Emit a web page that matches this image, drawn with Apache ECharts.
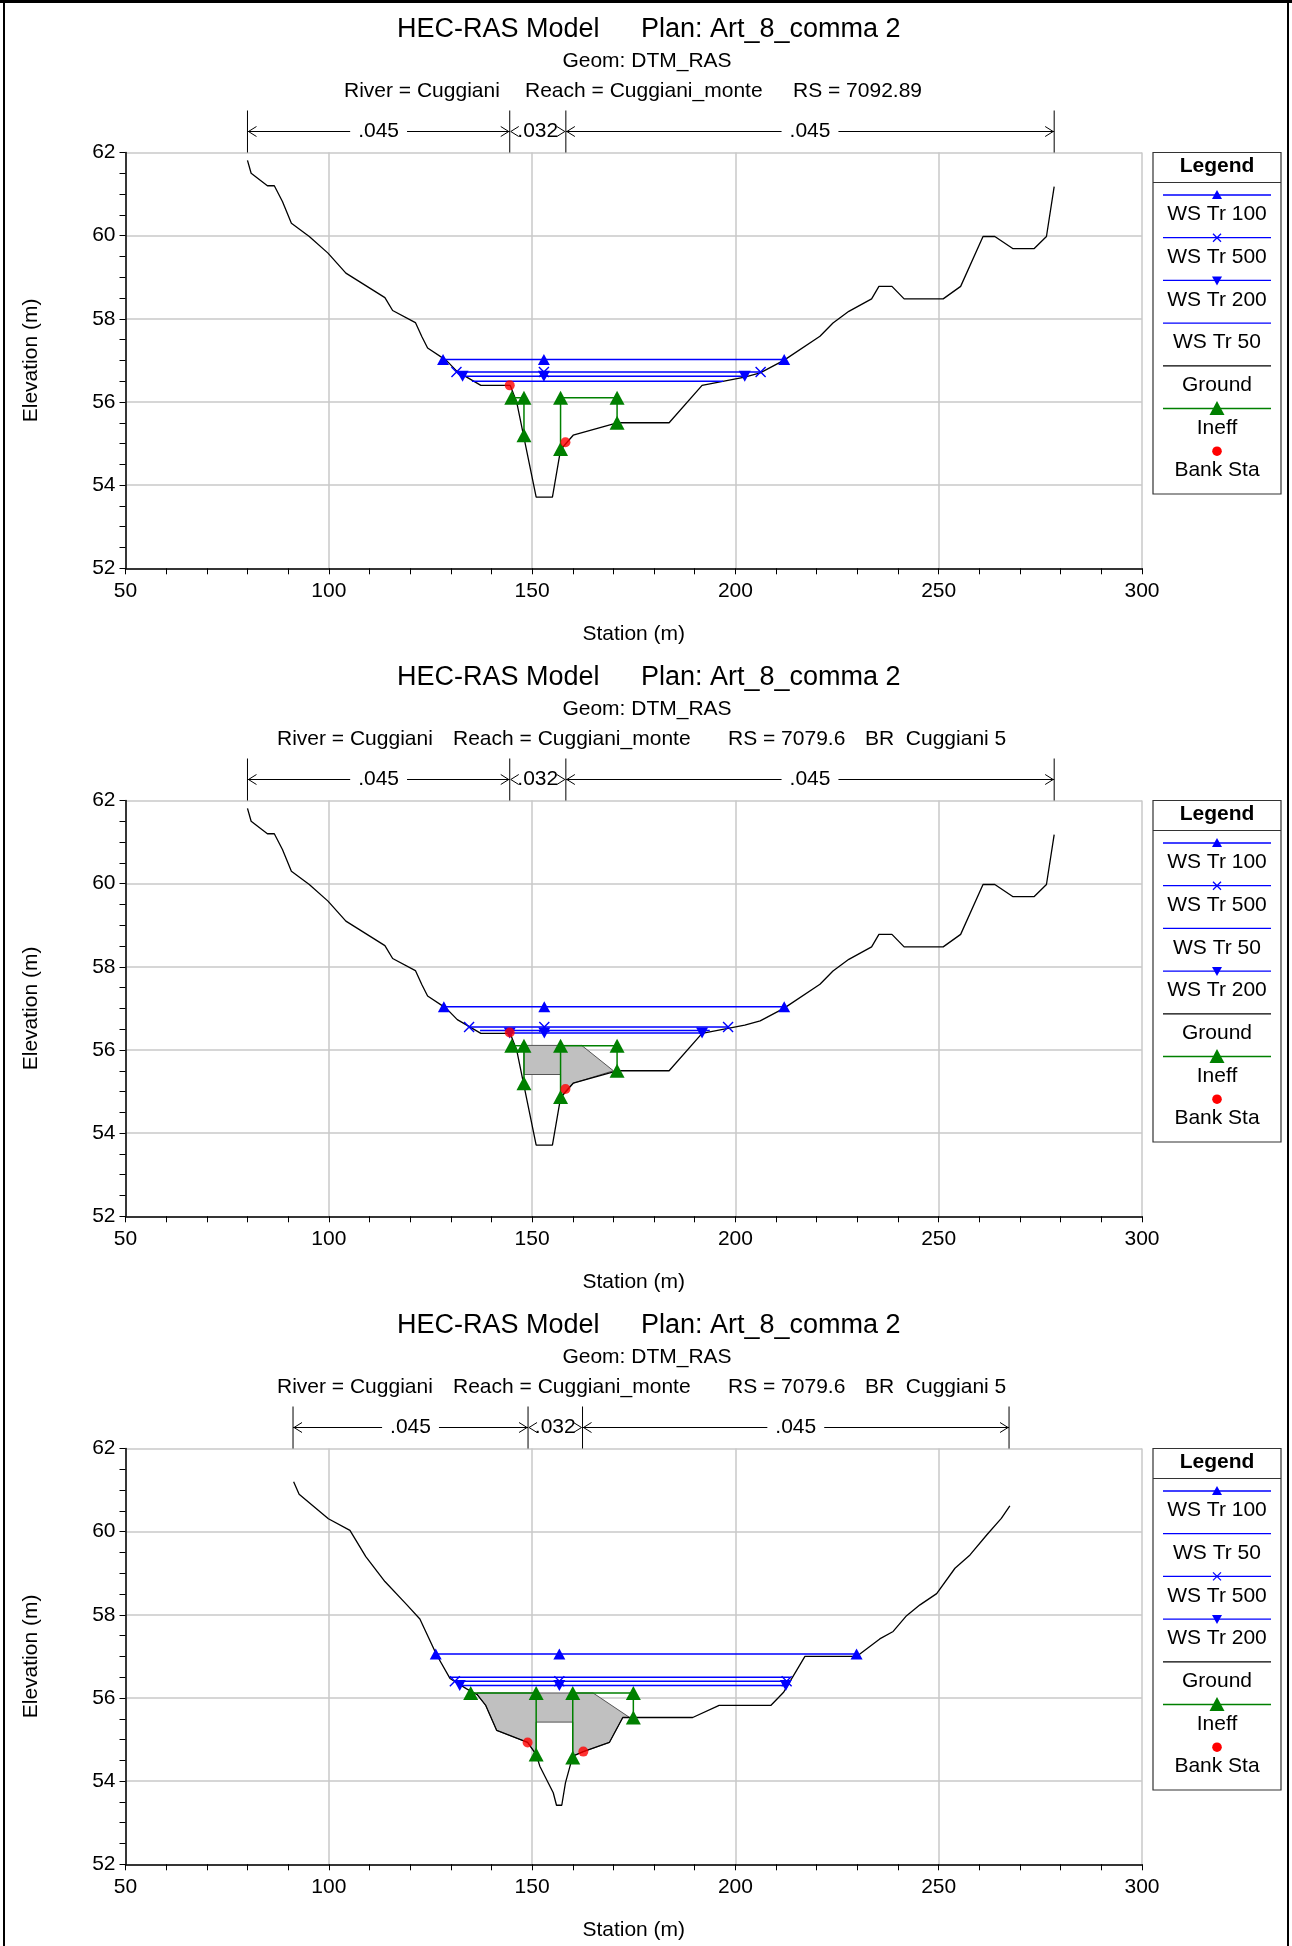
<!DOCTYPE html>
<html>
<head>
<meta charset="utf-8" />
<title>HEC-RAS cross sections</title>
<script src="https://cdn.jsdelivr.net/npm/echarts@6/dist/echarts.min.js"></script>
<style>
  html, body { margin: 0; padding: 0; background: #fff; }
  #divChart { width: 1292px; height: 1946px; }
</style>
</head>
<body>
<div id="divChart"></div>
<script>
    // ---- data (station m, elevation m) ----
    // ground of the upstream section (charts 1 and 2 share it)
    const groundUp = [[80, 61.81], [80.9, 61.5], [84.9, 61.2], [86.6, 61.2], [88.6, 60.82], [90.8, 60.3],
        [95.2, 59.98], [99.8, 59.58], [104.2, 59.1], [113.8, 58.51], [115.7, 58.2], [121.3, 57.91],
        [122.9, 57.57], [124.3, 57.3], [128.9, 57.0], [131.6, 56.73], [137.4, 56.4], [144.6, 56.4],
        [146.2, 56.0], [151.0, 53.71], [155.0, 53.71], [157.0, 54.85], [160.1, 55.2], [170.9, 55.5],
        [183.7, 55.5], [191.8, 56.4], [202.3, 56.6], [206.1, 56.7], [211.9, 57.0], [220.8, 57.58],
        [224.0, 57.9], [227.9, 58.18], [233.5, 58.48], [235.3, 58.78], [238.5, 58.78], [241.5, 58.48],
        [251.1, 58.48], [255.4, 58.78], [260.9, 59.98], [263.8, 59.98], [268.2, 59.69], [273.5, 59.69],
        [276.5, 59.98], [278.4, 61.18]];
    // ground of the bridge section (chart 3)
    const groundBr = [[91.35, 61.2], [92.7, 60.9], [99.9, 60.31], [105.2, 60.03], [109.1, 59.4], [113.8, 58.8],
        [119.1, 58.25], [122.4, 57.9], [126.5, 57.04], [129.8, 56.47], [133.9, 56.22], [136.5, 56.08],
        [138.6, 55.82], [141.3, 55.22], [148.9, 54.93], [151.0, 54.64], [151.9, 54.36], [155.2, 53.72],
        [156.0, 53.42], [157.3, 53.42], [158.2, 53.96], [160.0, 54.6], [162.6, 54.71], [169.0, 54.93],
        [172.3, 55.53], [189.5, 55.53], [196.0, 55.82], [208.7, 55.82], [211.8, 56.13], [217.1, 57.0],
        [229.8, 57.0], [235.5, 57.42], [238.8, 57.6], [242.1, 57.98], [245.4, 58.24], [249.5, 58.51],
        [254.0, 59.12], [257.7, 59.44], [261.8, 59.92], [265.4, 60.32], [267.5, 60.62]];

    // water surfaces, chart 1
    const ws100A = [[128.1, 57.02], [152.9, 57.02], [212.0, 57.02]];
    const ws500A = [[131.4, 56.72], [152.9, 56.72], [206.2, 56.72]];
    const ws200A = [[132.9, 56.62], [152.9, 56.62], [202.3, 56.62]];
    const ws50A = [[135.2, 56.5], [197.0, 56.5]];
    // water surfaces, chart 2
    const ws100B = [[128.3, 57.04], [153.0, 57.04], [212.0, 57.04]];
    const ws500B = [[134.5, 56.55], [153.0, 56.55], [198.2, 56.55]];
    const ws50B = [[137.2, 56.47], [193.7, 56.47]];
    const ws200B = [[144.5, 56.41], [153.0, 56.41], [191.8, 56.41]];
    // water surfaces, chart 3
    const ws100C = [[126.3, 57.06], [156.7, 57.06], [229.8, 57.06]];
    const ws50C = [[129.8, 56.5], [213.4, 56.5]];
    const ws500C = [[131.0, 56.4], [156.7, 56.4], [212.6, 56.4]];
    const ws200C = [[132.2, 56.3], [156.7, 56.3], [212.4, 56.3]];

    // ineffective flow areas
    const ineffUpLeft = [[145.0, 56.1], [148.0, 56.1], [148.0, 55.2]];
    const ineffUpRight = [[157.0, 54.87], [157.0, 56.1], [170.9, 56.1], [170.9, 55.5]];
    const ineffBrLeft = [[134.9, 56.12], [151.0, 56.12], [151.0, 54.64]];
    const ineffBrRight = [[160.0, 54.57], [160.0, 56.12], [174.9, 56.12], [174.9, 55.53]];

    // bank stations
    const bankA = [[144.5, 56.4], [158.2, 55.03]];
    const bankB = [[144.5, 56.42], [158.2, 55.06]];
    const bankC = [[148.9, 54.93], [162.6, 54.71]];

    // bridge deck outlines
    const deckB = [[148, 56.11], [162.2, 56.11], [170, 55.5], [160.1, 55.2], [158.4, 55.03], [157, 54.85],
        [157, 55.41], [148, 55.41]];
    const deckC = [[136.5, 56.12], [165, 56.12], [174, 55.53], [172.3, 55.53], [169, 54.93], [162.6, 54.71],
        [160, 54.6], [160, 55.42], [151, 55.42], [151, 54.64], [148.9, 54.93], [141.3, 55.22], [138.6, 55.82],
        [136.5, 56.08]];

    // Manning's n breaks
    const nStationsUp = [80, 144.5, 158.3, 278.4];
    const nStationsBr = [91.2, 149.0, 162.4, 267.3];
    const nValues = ['.045', '.032', '.045'];

    // axes
    const xMin = 50, xMax = 300, xStep = 50;
    const yMin = 52, yMax = 62, yStep = 2;

    // texts
    const titleLeft = 'HEC-RAS Model';
    const titleRight = 'Plan: Art_8_comma 2';
    const geomText = 'Geom: DTM_RAS';
    const riverA = ['River = Cuggiani', 'Reach = Cuggiani_monte', 'RS = 7092.89'];
    const riverB = ['River = Cuggiani', 'Reach = Cuggiani_monte', 'RS = 7079.6', 'BR  Cuggiani 5'];
    const riverXA = [344, 525, 793];
    const riverXB = [277, 453, 728, 865];

    const legendA = ['WS Tr 100', 'WS Tr 500', 'WS Tr 200', 'WS Tr 50', 'Ground', 'Ineff', 'Bank Sta'];
    const legendB = ['WS Tr 100', 'WS Tr 500', 'WS Tr 50', 'WS Tr 200', 'Ground', 'Ineff', 'Bank Sta'];
    const legendC = ['WS Tr 100', 'WS Tr 50', 'WS Tr 500', 'WS Tr 200', 'Ground', 'Ineff', 'Bank Sta'];

    // ---- drawing ----
    const FONT = '"Liberation Sans", Arial, sans-serif';
    const PANEL = 648;
    const XPATH = 'path://M0,0L10,10M10,0L0,10';
    const DOWN = 'path://M0,0L10,0L5,9Z';
    const BLUE = '#0000ff', GREEN = '#008000';

    const mctx = document.createElement('canvas').getContext('2d');
    mctx.font = '21px ' + FONT;

    function wsSeries(p, name, data) {
        let sym = { 'WS Tr 100': 'triangle', 'WS Tr 500': XPATH, 'WS Tr 200': DOWN, 'WS Tr 50': 'none' }[name];
        return {
            name: name, type: 'line', xAxisIndex: p, yAxisIndex: p, data: data,
            symbol: sym, showSymbol: sym !== 'none',
            symbolSize: sym === XPATH ? [10, 10] : [12, 11],
            lineStyle: { color: BLUE, width: 1.5 },
            itemStyle: { color: BLUE, borderColor: BLUE, borderWidth: sym === XPATH ? 1.4 : 0 },
            z: 5, silent: true
        };
    }

    function lineSeries(p, data, color, z) {
        return {
            type: 'line', xAxisIndex: p, yAxisIndex: p, data: data, symbol: 'none',
            lineStyle: { color: color, width: 1.3 }, z: z, silent: true
        };
    }

    function ineffSeries(p, data) {
        return {
            type: 'line', xAxisIndex: p, yAxisIndex: p, data: data,
            symbol: 'triangle', symbolSize: [15, 14],
            lineStyle: { color: GREEN, width: 1.5 }, itemStyle: { color: GREEN },
            z: 4, silent: true
        };
    }

    function bankSeries(p, data) {
        return {
            type: 'scatter', xAxisIndex: p, yAxisIndex: p, data: data,
            symbol: 'circle', symbolSize: 10, itemStyle: { color: '#ff0000' }, z: 6, silent: true
        };
    }

    function deckSeries(p, pts) {
        return {
            type: 'custom', xAxisIndex: p, yAxisIndex: p, clip: false, z: 1, silent: true,
            data: [pts[0]],
            renderItem: function (params, api) {
                return {
                    type: 'polygon',
                    shape: { points: pts.map(function (pt) { return api.coord(pt); }) },
                    style: { fill: '#c0c0c0', stroke: '#555', lineWidth: 1 }
                };
            }
        };
    }

    function nBarSeries(p, stations) {
        let segs = [];
        for (let i = 0; i < stations.length - 1; i++) segs.push([stations[i], stations[i + 1]]);
        return {
            type: 'custom', xAxisIndex: p, yAxisIndex: p, clip: false, z: 5, silent: true,
            data: segs,
            renderItem: function (params, api) {
                let i = params.dataIndex;
                let a = api.coord([api.value(0), yMax]);
                let b = api.coord([api.value(1), yMax]);
                let top = a[1], ya = top - 21, yt = top - 42;
                let x1 = a[0], x2 = b[0], cx = (x1 + x2) / 2;
                let half = mctx.measureText(nValues[i]).width / 2 + 8;
                let ls = { stroke: '#000', lineWidth: 1 };
                let ch = [];
                if (i === 0) ch.push({ type: 'line', shape: { x1: x1, y1: yt, x2: x1, y2: top }, style: ls });
                ch.push({ type: 'line', shape: { x1: x2, y1: yt, x2: x2, y2: top }, style: ls });
                if (cx - half > x1 + 2) {
                    ch.push({ type: 'line', shape: { x1: x1, y1: ya, x2: cx - half, y2: ya }, style: ls });
                    ch.push({ type: 'line', shape: { x1: cx + half, y1: ya, x2: x2, y2: ya }, style: ls });
                }
                ch.push({ type: 'polyline', shape: { points: [[x1 + 9, ya - 5], [x1 + 1, ya], [x1 + 9, ya + 5]] }, style: { stroke: '#000', lineWidth: 1, fill: null } });
                ch.push({ type: 'polyline', shape: { points: [[x2 - 9, ya - 5], [x2 - 1, ya], [x2 - 9, ya + 5]] }, style: { stroke: '#000', lineWidth: 1, fill: null } });
                ch.push({ type: 'text', x: cx, y: ya, style: { text: nValues[i], fontSize: 21, fontFamily: FONT, fill: '#000', align: 'center', verticalAlign: 'middle' } });
                return { type: 'group', children: ch };
            }
        };
    }

    function legendEls(order, oy) {
        let els = [];
        let L = 1153, R = 1281, T = 152.5 + oy, B = 494 + oy, cx = 1217;
        els.push({ type: 'rect', shape: { x: L, y: T, width: R - L, height: B - T }, style: { fill: '#fff', stroke: '#333', lineWidth: 1.2 }, z: 100 });
        els.push({ type: 'text', x: cx, y: 166.5 + oy, style: { text: 'Legend', fontSize: 21, fontWeight: 'bold', fontFamily: FONT, fill: '#000', align: 'center', verticalAlign: 'middle' }, z: 101 });
        els.push({ type: 'line', shape: { x1: L, y1: 182.5 + oy, x2: R, y2: 182.5 + oy }, style: { stroke: '#333', lineWidth: 1.2 }, z: 101 });
        order.forEach(function (name, i) {
            let ly = 195 + 42.7 * i + oy, ty = 214.5 + 42.7 * i + oy;
            let col = name.indexOf('WS') === 0 ? BLUE : name === 'Ground' ? '#000' : GREEN;
            if (name !== 'Bank Sta') {
                els.push({ type: 'line', shape: { x1: 1163, y1: ly, x2: 1271, y2: ly }, style: { stroke: col, lineWidth: 1.3 }, z: 101 });
            }
            if (name === 'WS Tr 100') {
                els.push({ type: 'polygon', shape: { points: [[cx - 5, ly + 4], [cx + 5, ly + 4], [cx, ly - 5]] }, style: { fill: BLUE }, z: 102 });
            } else if (name === 'WS Tr 200') {
                els.push({ type: 'polygon', shape: { points: [[cx - 5, ly - 4], [cx + 5, ly - 4], [cx, ly + 5]] }, style: { fill: BLUE }, z: 102 });
            } else if (name === 'WS Tr 500') {
                els.push({ type: 'line', shape: { x1: cx - 4, y1: ly - 4, x2: cx + 4, y2: ly + 4 }, style: { stroke: BLUE, lineWidth: 1.3 }, z: 102 });
                els.push({ type: 'line', shape: { x1: cx - 4, y1: ly + 4, x2: cx + 4, y2: ly - 4 }, style: { stroke: BLUE, lineWidth: 1.3 }, z: 102 });
            } else if (name === 'Ineff') {
                els.push({ type: 'polygon', shape: { points: [[cx - 7.5, ly + 6.5], [cx + 7.5, ly + 6.5], [cx, ly - 7.5]] }, style: { fill: GREEN }, z: 102 });
            } else if (name === 'Bank Sta') {
                els.push({ type: 'circle', shape: { cx: cx, cy: ly, r: 4.8 }, style: { fill: '#ff0000' }, z: 102 });
            }
            els.push({ type: 'text', x: cx, y: ty, style: { text: name, fontSize: 21, fontFamily: FONT, fill: '#000', align: 'center', verticalAlign: 'middle' }, z: 101 });
        });
        return els;
    }

    function headerEls(river, riverX, oy) {
        let els = [];
        let t = function (s, x, y, size, align) {
            els.push({ type: 'text', x: x, y: y + oy, style: { text: s, fontSize: size, fontFamily: FONT, fill: '#000', align: align, verticalAlign: 'middle' } });
        };
        t(titleLeft, 397, 30, 27, 'left');
        t(titleRight, 641, 30, 27, 'left');
        t(geomText, 647, 61, 21, 'center');
        river.forEach(function (s, i) { t(s, riverX[i], 91, 21, 'left'); });
        return els;
    }

    const grids = [], xAxes = [], yAxes = [];
    for (let p = 0; p < 3; p++) {
        grids.push({ left: 125.5, width: 1016.5, top: 152.5 + PANEL * p, height: 415.8 });
        xAxes.push({
            gridIndex: p, type: 'value', min: xMin, max: xMax, interval: xStep,
            name: 'Station (m)', nameLocation: 'middle', nameGap: 55,
            nameTextStyle: { fontSize: 21, color: '#000', fontFamily: FONT },
            axisLine: { onZero: false, lineStyle: { color: '#000', width: 1.5 } },
            axisTick: { length: 6, lineStyle: { color: '#000' } },
            minorTick: { show: true, splitNumber: 5, length: 6, lineStyle: { color: '#000' } },
            splitLine: { show: true, lineStyle: { color: '#c8c8c8', width: 1.5 } },
            axisLabel: { fontSize: 21, color: '#000', fontFamily: FONT, margin: 12 }
        });
        yAxes.push({
            gridIndex: p, type: 'value', min: yMin, max: yMax, interval: yStep,
            name: 'Elevation (m)', nameLocation: 'middle', nameGap: 84,
            nameTextStyle: { fontSize: 21, color: '#000', fontFamily: FONT },
            axisLine: { onZero: false, lineStyle: { color: '#000', width: 1.5 } },
            axisTick: { length: 6, lineStyle: { color: '#000' } },
            minorTick: { show: true, splitNumber: 4, length: 6, lineStyle: { color: '#000' } },
            splitLine: { show: true, lineStyle: { color: '#c8c8c8', width: 1.5 } },
            axisLabel: { fontSize: 21, color: '#000', fontFamily: FONT, margin: 10 }
        });
    }

    const series = [
        // chart 1
        lineSeries(0, groundUp, '#000', 3),
        ineffSeries(0, ineffUpLeft), ineffSeries(0, ineffUpRight),
        wsSeries(0, 'WS Tr 50', ws50A), wsSeries(0, 'WS Tr 200', ws200A),
        wsSeries(0, 'WS Tr 500', ws500A), wsSeries(0, 'WS Tr 100', ws100A),
        bankSeries(0, bankA), nBarSeries(0, nStationsUp),
        // chart 2
        deckSeries(1, deckB),
        lineSeries(1, groundUp, '#000', 3),
        ineffSeries(1, ineffUpLeft), ineffSeries(1, ineffUpRight),
        wsSeries(1, 'WS Tr 200', ws200B), wsSeries(1, 'WS Tr 50', ws50B),
        wsSeries(1, 'WS Tr 500', ws500B), wsSeries(1, 'WS Tr 100', ws100B),
        bankSeries(1, bankB), nBarSeries(1, nStationsUp),
        // chart 3
        deckSeries(2, deckC),
        lineSeries(2, groundBr, '#000', 3),
        ineffSeries(2, ineffBrLeft), ineffSeries(2, ineffBrRight),
        wsSeries(2, 'WS Tr 200', ws200C), wsSeries(2, 'WS Tr 500', ws500C),
        wsSeries(2, 'WS Tr 50', ws50C), wsSeries(2, 'WS Tr 100', ws100C),
        bankSeries(2, bankC), nBarSeries(2, nStationsBr)
    ];

    let graphics = [
        { type: 'rect', shape: { x: 4, y: 1, width: 1284, height: 1960 }, style: { fill: null, stroke: '#000', lineWidth: 2 }, z: 200 },
        { type: 'line', shape: { x1: 0, y1: 1.5, x2: 1292, y2: 1.5 }, style: { stroke: '#000', lineWidth: 3 }, z: 200 }
    ];
    graphics = graphics.concat(headerEls(riverA, riverXA, 0), headerEls(riverB, riverXB, PANEL), headerEls(riverB, riverXB, 2 * PANEL));
    graphics = graphics.concat(legendEls(legendA, 0), legendEls(legendB, PANEL), legendEls(legendC, 2 * PANEL));

    const option = {
        backgroundColor: '#fff',
        animation: false,
        textStyle: { fontFamily: FONT },
        grid: grids,
        xAxis: xAxes,
        yAxis: yAxes,
        series: series,
        graphic: graphics
    };
    echarts.init(document.getElementById('divChart')).setOption(option);
</script>
</body>
</html>
